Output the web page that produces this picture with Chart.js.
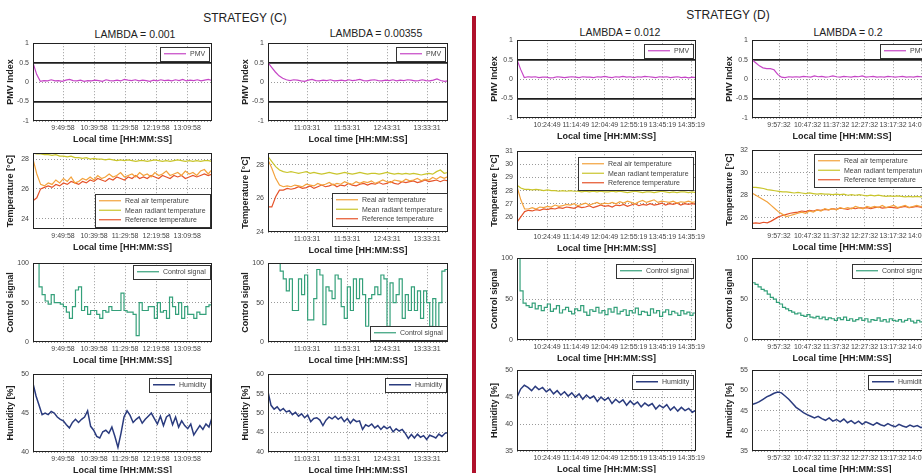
<!DOCTYPE html>
<html>
<head>
<meta charset="utf-8">
<title>Strategy C / D</title>
<script src="https://cdn.jsdelivr.net/npm/chart.js@4.4.1/dist/chart.umd.min.js"></script>
<style>
  html, body { margin: 0; padding: 0; background: #fff; }
  body { position: relative; width: 922px; height: 473px; overflow: hidden; font-family: "Liberation Sans", Arial, sans-serif; color: #222; }
  .panel { position: absolute; }
  .label { position: absolute; transform: translate(-50%, -50%); white-space: nowrap; }
  .strategy { font-size: 12px; }
  .lambda { font-size: 10.5px; }
  #divider { position: absolute; left: 472px; top: 16px; width: 4px; height: 457px; background: #b0112b; }
</style>
</head>
<body>
<div class="label strategy" style="left:245px; top:18px">STRATEGY (C)</div>
<div class="label strategy" style="left:728px; top:15px">STRATEGY (D)</div>
<div class="label lambda" style="left:135px; top:34px">LAMBDA = 0.001</div>
<div class="label lambda" style="left:376px; top:33px">LAMBDA = 0.00355</div>
<div class="label lambda" style="left:620px; top:32px">LAMBDA = 0.012</div>
<div class="label lambda" style="left:848px; top:32px">LAMBDA = 0.2</div>
<div id="divider"></div>

<script>
// visible time span and tick times of every column
const spanC1 = ['9:01:34', '13:50:00'];
const ticksC1 = ['9:49:58', '10:39:58', '11:29:58', '12:19:58', '13:09:58'];
const spanC2 = ['10:14:46', '13:59:46'];
const ticksC2 = ['11:03:31', '11:53:31', '12:43:31', '13:33:31'];
const spanD1 = ['9:32:43', '14:43:30'];
const ticksD1 = ['10:24:49', '11:14:49', '12:04:49', '12:55:19', '13:45:19', '14:35:19'];
const spanD2 = ['9:10:06', '14:25:54'];
const ticksD2 = ['9:57:32', '10:47:32', '11:37:32', '12:27:32', '13:17:32', '14:07:32'];

// PMV index
const pmvC1 = [0.5, 0.2, 0.02, 0.04, 0.03, 0.06, 0.03, 0.04, 0.02, 0.05, 0.07, 0.04, 0.03, 0.05, 0.02, 0.04, 0.03, 0.05, 0.04, 0.02, 0.06, 0.04, 0.03, 0.05, 0.03, 0.07, 0.05, 0.04, 0.06, 0.03, 0.05, 0.04, 0.02, 0.05, 0.03, 0.06, 0.04, 0.05, 0.03, 0.06, 0.04, 0.07, 0.03, 0.05, 0.04, 0.06, 0.03, 0.05, 0.07, 0.04];
const pmvC2 = [0.5, 0.38, 0.26, 0.16, 0.1, 0.06, 0.04, 0.06, 0.05, 0.03, 0.02, 0.05, 0.07, 0.04, 0.03, 0.05, 0.04, 0.06, 0.03, 0.04, 0.05, 0.03, 0.06, 0.04, 0.05, 0.07, 0.04, 0.03, 0.05, 0.06, 0.04, 0.03, 0.05, 0.04, 0.06, 0.03, 0.05, 0.04, 0.06, 0.05, 0.03, 0.04, 0.06, 0.04, 0.03, 0.05, 0.08, 0.04, 0.02, 0.03];
const pmvD1 = [0.5, 0.25, 0.04, 0.06, 0.05, 0.06, 0.04, 0.05, 0.05, 0.03, 0.04, 0.06, 0.05, 0.04, 0.05, 0.06, 0.05, 0.04, 0.06, 0.05, 0.05, 0.04, 0.06, 0.05, 0.07, 0.05, 0.04, 0.06, 0.05, 0.07, 0.05, 0.06, 0.04, 0.06, 0.05, 0.07, 0.06, 0.05, 0.04, 0.06, 0.05, 0.06, 0.04, 0.05, 0.06, 0.04, 0.05, 0.03, 0.05, 0.04];
const pmvD2 = [0.5, 0.42, 0.34, 0.29, 0.27, 0.27, 0.24, 0.12, 0.05, 0.04, 0.06, 0.05, 0.06, 0.05, 0.07, 0.06, 0.05, 0.08, 0.06, 0.07, 0.05, 0.06, 0.08, 0.06, 0.05, 0.07, 0.06, 0.05, 0.07, 0.06, 0.08, 0.05, 0.06, 0.07, 0.05, 0.06, 0.05, 0.07, 0.06, 0.05, 0.06, 0.07, 0.05, 0.06, 0.05, 0.07, 0.06, 0.05, 0.06, 0.05];

// temperatures [°C]
const realC1 = [28.0, 27.0, 26.3, 26.2, 26.4, 26.3, 26.6, 26.4, 26.7, 26.5, 26.8, 26.4, 26.5, 26.7, 26.6, 26.8, 26.6, 26.9, 26.7, 26.8, 27.0, 26.8, 26.9, 27.1, 26.8, 26.9, 27.0, 26.8, 27.1, 26.9, 27.0, 26.8, 27.1, 26.9, 27.0, 27.2, 26.9, 27.0, 27.1, 26.9, 27.2, 27.0, 27.1, 26.9, 27.2, 27.3, 27.0, 27.3];
const radiantC1 = [28.4, 28.35, 28.35, 28.3, 28.3, 28.25, 28.3, 28.2, 28.2, 28.15, 28.2, 28.1, 28.1, 28.05, 28.1, 28.0, 28.05, 28.0, 28.0, 27.95, 28.0, 27.95, 27.9, 27.95, 27.9, 27.95, 27.9, 27.85, 27.9, 27.9, 27.85, 27.9, 27.95, 27.9, 27.85, 27.9, 27.85, 27.9, 27.95, 27.9, 27.85, 27.9, 27.85, 27.9, 27.85, 27.9, 27.9, 27.85];
const refC1 = [25.2, 25.4, 26.0, 26.1, 26.2, 26.1, 26.3, 26.2, 26.4, 26.3, 26.5, 26.4, 26.3, 26.5, 26.4, 26.6, 26.5, 26.7, 26.6, 26.5, 26.7, 26.6, 26.8, 26.7, 26.6, 26.8, 26.7, 26.9, 26.7, 26.8, 26.7, 26.9, 26.8, 26.7, 26.9, 26.8, 26.7, 26.9, 26.8, 26.9, 26.7, 26.8, 26.9, 26.8, 26.9, 27.0, 26.9, 27.0];

const realC2 = [28.3, 27.8, 27.2, 26.8, 26.7, 26.75, 26.7, 26.8, 26.75, 26.7, 26.85, 26.8, 26.75, 26.9, 26.8, 26.85, 26.95, 26.8, 26.9, 26.85, 27.0, 26.9, 26.85, 27.0, 26.9, 27.0, 26.95, 27.05, 26.9, 27.0, 27.1, 27.0, 26.95, 27.1, 27.05, 27.0, 27.15, 27.05, 27.1, 27.2, 27.05, 27.15, 27.1, 27.25, 27.15, 27.3, 27.2, 27.3];
const radiantC2 = [28.5, 28.2, 27.9, 27.7, 27.6, 27.55, 27.6, 27.55, 27.5, 27.55, 27.6, 27.5, 27.55, 27.5, 27.45, 27.5, 27.55, 27.5, 27.45, 27.5, 27.55, 27.5, 27.45, 27.5, 27.55, 27.5, 27.45, 27.5, 27.5, 27.45, 27.5, 27.55, 27.5, 27.45, 27.5, 27.45, 27.5, 27.45, 27.5, 27.45, 27.4, 27.45, 27.5, 27.45, 27.6, 27.7, 27.5, 27.55];
const refC2 = [25.5, 25.5, 26.1, 26.5, 26.5, 26.6, 26.55, 26.6, 26.7, 26.6, 26.65, 26.75, 26.6, 26.7, 26.8, 26.7, 26.75, 26.85, 26.7, 26.8, 26.75, 26.9, 26.8, 26.75, 26.85, 26.9, 26.8, 26.9, 26.85, 26.95, 26.85, 26.9, 27.0, 26.9, 26.85, 27.0, 26.95, 27.0, 27.05, 26.95, 27.0, 27.1, 27.0, 27.05, 27.1, 27.0, 27.1, 27.05];

const realD1 = [28.3, 27.3, 26.6, 26.6, 26.7, 26.6, 26.75, 26.7, 26.8, 26.75, 26.9, 26.8, 26.85, 26.95, 26.9, 27.0, 26.85, 26.95, 27.05, 26.9, 27.0, 27.1, 26.95, 27.05, 27.0, 27.1, 27.0, 27.15, 27.05, 27.2, 27.1, 27.0, 27.15, 27.25, 27.1, 27.2, 27.3, 27.1, 27.2, 27.15, 27.1, 27.2, 27.05, 27.15, 27.1, 27.2, 27.1, 27.15];
const radiantD1 = [28.4, 28.2, 28.1, 28.1, 28.05, 28.1, 28.05, 28.0, 28.05, 28.0, 28.0, 27.95, 28.0, 27.95, 28.0, 27.95, 27.95, 27.9, 27.95, 27.9, 27.95, 27.9, 27.95, 27.9, 27.9, 27.95, 27.9, 27.95, 27.9, 27.85, 27.9, 27.95, 27.9, 27.85, 27.9, 27.9, 27.85, 27.9, 27.95, 27.9, 27.85, 27.9, 27.85, 27.9, 27.9, 27.85, 27.9, 27.85];
const refD1 = [25.6, 26.0, 26.4, 26.5, 26.45, 26.55, 26.5, 26.6, 26.55, 26.65, 26.6, 26.7, 26.65, 26.75, 26.7, 26.65, 26.8, 26.7, 26.75, 26.85, 26.7, 26.8, 26.9, 26.8, 26.85, 26.75, 26.9, 26.85, 26.95, 26.8, 26.9, 27.0, 26.85, 26.95, 26.9, 27.0, 26.9, 26.95, 27.05, 26.9, 27.0, 26.95, 27.05, 26.9, 27.0, 26.95, 27.0, 26.95];

const realD2 = [28.2, 28.0, 27.8, 27.6, 27.4, 27.1, 26.8, 26.5, 26.3, 26.1, 26.2, 26.3, 26.4, 26.5, 26.4, 26.6, 26.5, 26.7, 26.6, 26.8, 26.7, 26.8, 26.7, 26.9, 26.8, 26.9, 26.8, 27.0, 26.9, 26.8, 27.0, 26.9, 27.0, 26.9, 27.1, 26.9, 27.0, 27.1, 26.9, 27.0, 27.1, 26.9, 27.0, 27.1, 27.0, 27.1, 27.0, 27.1];
const radiantD2 = [28.7, 28.7, 28.65, 28.6, 28.5, 28.45, 28.4, 28.35, 28.3, 28.3, 28.25, 28.2, 28.25, 28.2, 28.15, 28.2, 28.15, 28.1, 28.15, 28.1, 28.1, 28.05, 28.1, 28.05, 28.1, 28.0, 28.05, 28.0, 28.05, 28.0, 27.95, 28.0, 27.95, 28.0, 27.95, 27.9, 27.95, 27.9, 27.95, 27.9, 27.85, 27.9, 27.85, 27.9, 27.85, 27.9, 27.85, 27.9];
const refD2 = [25.5, 25.55, 25.5, 25.6, 25.55, 25.7, 25.9, 26.1, 26.2, 26.3, 26.4, 26.45, 26.5, 26.6, 26.55, 26.65, 26.6, 26.7, 26.65, 26.75, 26.7, 26.8, 26.75, 26.85, 26.8, 26.75, 26.85, 26.8, 26.9, 26.85, 26.9, 26.8, 26.9, 26.95, 26.85, 26.9, 26.95, 26.9, 26.85, 26.95, 27.0, 26.9, 26.95, 27.0, 26.95, 27.0, 26.95, 27.0];

// control signal [%], held between samples
const ctrlC1 = [0, 100, 100, 70, 60, 52, 48, 60, 50, 50, 48, 45, 38, 30, 45, 66, 70, 40, 45, 35, 40, 40, 35, 30, 40, 38, 45, 40, 40, 40, 62, 40, 38, 38, 35, 8, 50, 40, 40, 45, 45, 30, 50, 38, 40, 30, 57, 45, 35, 50, 30, 45, 35, 35, 30, 38, 35, 35, 45, 47];
const ctrlC2 = [100, 100, 100, 100, 100, 90, 80, 65, 80, 40, 40, 80, 60, 85, 28, 28, 55, 92, 85, 22, 70, 65, 55, 85, 80, 45, 30, 70, 40, 80, 55, 80, 60, 20, 55, 60, 70, 60, 85, 80, 20, 75, 50, 60, 80, 30, 60, 40, 70, 40, 65, 30, 65, 50, 20, 55, 15, 50, 90, 92];
const ctrlD1 = [100, 100, 60, 45, 42, 40, 45, 38, 42, 36, 40, 44, 35, 38, 42, 33, 37, 40, 35, 32, 38, 36, 42, 34, 30, 37, 35, 40, 33, 36, 31, 38, 34, 40, 32, 35, 37, 30, 36, 33, 39, 31, 35, 34, 30, 38, 33, 36, 29, 34, 37, 31, 35, 33, 30, 36, 32, 34, 30, 33];
const ctrlD2 = [72, 70, 68, 65, 62, 60, 56, 52, 50, 46, 44, 40, 38, 36, 34, 32, 33, 30, 29, 31, 28, 27, 29, 26, 28, 25, 27, 26, 24, 27, 25, 28, 24, 26, 23, 25, 27, 24, 26, 22, 25, 24, 27, 23, 25, 22, 26, 24, 23, 25, 22, 24, 26, 23, 21, 24, 22, 25, 23, 24];

// relative humidity [%]
const humC1 = [48.8, 47.2, 46, 44.8, 45, 44.8, 45.2, 45.0, 44.5, 44.2, 44, 43.5, 43.1, 43.8, 44.2, 43.8, 44.2, 44.5, 45.3, 43.3, 42.8, 42, 41.8, 42.6, 42.8, 42.4, 43.2, 42, 40.6, 42.4, 44.5, 45.3, 44.7, 43.8, 44.2, 44.5, 43.7, 44.2, 44.6, 45, 44.3, 43.6, 44.6, 43.4, 44.5, 44.8, 43.5, 44.5, 43.2, 44, 43.4, 43, 43.6, 42.2, 42.8, 43.4, 42.9, 43.6, 43.2, 44.4];
const humC2 = [55.5, 52, 51, 51.6, 50.6, 51.2, 50.3, 50.6, 49.6, 50.2, 49.2, 49.8, 48.8, 49.5, 47.8, 48.6, 48.8, 48.2, 46.8, 48.2, 49, 48.5, 49.2, 48.4, 49, 47.8, 48.6, 47.4, 48.4, 47.8, 48, 45.8, 47, 46.6, 47.2, 46.2, 46.8, 45.8, 46.6, 46, 46.5, 45.2, 46, 45.4, 45.8, 44.8, 43.5, 44.5, 43.6, 44.6, 43.8, 44.2, 43.2, 44.3, 44, 43.6, 44.6, 44, 44.8, 45];
const humD1 = [45, 46.5, 47.2, 46.8, 46.2, 47, 46.4, 46.8, 46, 46.5, 45.6, 46.2, 45.4, 46, 45.2, 45.8, 45, 45.6, 44.6, 45.4, 44.8, 45.2, 44.2, 45, 44.4, 44.9, 43.8, 44.6, 44, 44.5, 43.5, 44.3, 43.6, 44.1, 43.2, 43.9, 43.4, 43.8, 42.8, 43.5, 43, 43.6, 42.6, 43.2, 42.4, 43.1, 42.5, 42.9, 42.2, 42.6];
const humD2 = [46.5, 46.8, 47.2, 47.8, 48.4, 48.8, 49.3, 49.6, 49.4, 48.6, 47.8, 46.8, 45.8, 45.2, 44.5, 44.0, 43.6, 43.2, 43.6, 43.0, 42.6, 43.2, 42.4, 42.8, 42.2, 42.9, 42.0, 42.5, 41.8, 42.4, 41.6, 42.2, 41.8, 41.4, 42.0, 41.5, 41.2, 41.8, 41.3, 41.0, 41.6, 41.2, 40.9, 41.4, 41.0, 41.3, 40.8, 41.2, 40.9, 41.1];

const COLOR = { pmv: '#c646c6', real: '#f3a23c', radiant: '#c9c52c', ref: '#e5532a', ctrl: '#34a07a', hum: '#2a3b7e' };
const FAMILY = '"Liberation Sans", Arial, sans-serif';
const TICK_FONT = { family: FAMILY, size: 7 };
const TITLE_FONT = { family: FAMILY, size: 9, weight: 'bold' };
const TICK_COLOR = '#444';
const TITLE_COLOR = '#222';
const GRID = '#9a9a9a';

const LEFT_W = 28, BOTTOM_H = 24, TOP_PAD = 8, RIGHT_PAD = 20;

const columns = [
  { left: 33, width: 179, span: spanC1, ticks: ticksC1, tops: [43, 153, 263, 374], heights: [78, 76, 79, 78] },
  { left: 268, width: 180, span: spanC2, ticks: ticksC2, tops: [43, 153, 263, 374], heights: [78, 79, 79, 78] },
  { left: 517, width: 179, span: spanD1, ticks: ticksD1, tops: [40, 151, 258, 370], heights: [78, 79, 82, 81] },
  { left: 752, width: 180, span: spanD2, ticks: ticksD2, tops: [40, 150, 258, 370], heights: [78, 79, 82, 81] }
];

const yPmv = { title: 'PMV Index', min: -1, max: 1, ticks: [-1, -0.5, 0, 0.5, 1], comfort: true };
const yCtrl = { title: 'Control signal', min: 0, max: 100, ticks: [0, 50, 100] };
const tempTitle = 'Temperature [°C]';
const humTitle = 'Humidity [%]';

const tempSeries = (real, radiant, ref) => [
  ['Real air temperature', real, COLOR.real, 1.2],
  ['Mean radiant temperature', radiant, COLOR.radiant, 1.2],
  ['Reference temperature', ref, COLOR.ref, 1.2]
];

const panels = [
  { col: 0, row: 0, y: yPmv, series: [['PMV', pmvC1, COLOR.pmv, 1.2]], legend: { pos: 'top', dx: 3, dy: 4 } },
  { col: 1, row: 0, y: yPmv, series: [['PMV', pmvC2, COLOR.pmv, 1.2]], legend: { pos: 'top', dx: 3, dy: 4 } },
  { col: 2, row: 0, y: yPmv, series: [['PMV', pmvD1, COLOR.pmv, 1.2]], legend: { pos: 'top', dx: 3, dy: 4 } },
  { col: 3, row: 0, y: yPmv, series: [['PMV', pmvD2, COLOR.pmv, 1.2]], legend: { pos: 'top', dx: 3, dy: 4 } },

  { col: 0, row: 1, y: { title: tempTitle, min: 23.3, max: 28.4, ticks: [24, 26, 28] }, series: tempSeries(realC1, radiantC1, refC1), legend: { pos: 'bottom', dx: 2, dy: 2 } },
  { col: 1, row: 1, y: { title: tempTitle, min: 24, max: 28.7, ticks: [24, 26, 28] }, series: tempSeries(realC2, radiantC2, refC2), legend: { pos: 'bottom', dx: 1, dy: 6 } },
  { col: 2, row: 1, y: { title: tempTitle, min: 25, max: 31, ticks: [26, 27, 28, 29, 30, 31] }, series: tempSeries(realD1, radiantD1, refD1), legend: { pos: 'top', dx: 3, dy: 6 } },
  { col: 3, row: 1, y: { title: tempTitle, min: 25, max: 32, ticks: [26, 28, 30, 32] }, series: tempSeries(realD2, radiantD2, refD2), legend: { pos: 'top', dx: 3, dy: 4 } },

  { col: 0, row: 2, y: yCtrl, stepped: true, series: [['Control signal', ctrlC1, COLOR.ctrl, 1.2]], legend: { pos: 'top', dx: 2, dy: 2 } },
  { col: 1, row: 2, y: yCtrl, stepped: true, series: [['Control signal', ctrlC2, COLOR.ctrl, 1.2]], legend: { pos: 'bottom', dx: 1, dy: 2 } },
  { col: 2, row: 2, y: yCtrl, stepped: true, series: [['Control signal', ctrlD1, COLOR.ctrl, 1.2]], legend: { pos: 'top', dx: 3, dy: 6 } },
  { col: 3, row: 2, y: yCtrl, stepped: true, series: [['Control signal', ctrlD2, COLOR.ctrl, 1.2]], legend: { pos: 'top', dx: 3, dy: 6 } },

  { col: 0, row: 3, y: { title: humTitle, min: 40, max: 50, ticks: [40, 45, 50] }, series: [['Humidity', humC1, COLOR.hum, 1.5]], legend: { pos: 'top', dx: 2, dy: 4 } },
  { col: 1, row: 3, y: { title: humTitle, min: 40, max: 60, ticks: [40, 45, 50, 55, 60] }, series: [['Humidity', humC2, COLOR.hum, 1.5]], legend: { pos: 'top', dx: 2, dy: 4 } },
  { col: 2, row: 3, y: { title: humTitle, min: 35, max: 50, ticks: [35, 40, 45, 50] }, series: [['Humidity', humD1, COLOR.hum, 1.5]], legend: { pos: 'top', dx: 3, dy: 5 } },
  { col: 3, row: 3, y: { title: humTitle, min: 35, max: 55, ticks: [35, 40, 45, 50, 55] }, series: [['Humidity', humD2, COLOR.hum, 1.5]], legend: { pos: 'top', dx: 3, dy: 5 } }
];

function toMin(s) {
  const [h, m, sec] = s.split(':').map(Number);
  return h * 60 + m + sec / 60;
}

// samples are evenly spread over the logged period
function points(values, span) {
  const a = toMin(span[0]), b = toMin(span[1]);
  const step = (b - a) / (values.length - 1);
  return values.map((v, i) => ({ x: a + i * step, y: v }));
}

// black box round the plot area
const frame = {
  id: 'frame',
  afterDatasetsDraw(chart) {
    const { ctx, chartArea: a } = chart;
    ctx.save();
    ctx.strokeStyle = '#222';
    ctx.lineWidth = 1;
    ctx.strokeRect(Math.round(a.left) + 0.5, Math.round(a.top) + 0.5, Math.round(a.width) - 1, Math.round(a.height) - 1);
    ctx.restore();
  }
};

// legend box drawn inside the plot area
const insetLegend = {
  id: 'insetLegend',
  afterDraw(chart, args, opts) {
    const { ctx, chartArea: a } = chart;
    const sets = chart.data.datasets;
    const rowH = 9.5, sample = 22, pad = 4;
    ctx.save();
    ctx.font = '7px ' + FAMILY;
    const textW = Math.max(...sets.map(d => ctx.measureText(d.label).width));
    const w = Math.round(pad + sample + 4 + textW + pad);
    const h = Math.round(sets.length * rowH + 4);
    const x = Math.round(a.right - opts.dx - w);
    const y = Math.round(opts.pos === 'bottom' ? a.bottom - opts.dy - h : a.top + opts.dy);
    ctx.fillStyle = '#fff';
    ctx.fillRect(x, y, w, h);
    ctx.strokeStyle = '#333';
    ctx.lineWidth = 1;
    ctx.strokeRect(x + 0.5, y + 0.5, w, h);
    sets.forEach((d, i) => {
      const cy = y + 2 + rowH * i + rowH / 2;
      ctx.strokeStyle = d.borderColor;
      ctx.lineWidth = d.borderWidth;
      ctx.beginPath();
      ctx.moveTo(x + pad, cy);
      ctx.lineTo(x + pad + sample, cy);
      ctx.stroke();
      ctx.fillStyle = '#444';
      ctx.textBaseline = 'middle';
      ctx.fillText(d.label, x + pad + sample + 4, cy + 0.5);
    });
    ctx.restore();
  }
};

function isComfort(p, ctx) {
  return p.y.comfort && ctx.tick && Math.abs(Math.abs(ctx.tick.value) - 0.5) < 1e-9;
}

function makePanel(p) {
  const col = columns[p.col];
  const top = col.tops[p.row], h = col.heights[p.row];
  const cw = LEFT_W + col.width + RIGHT_PAD, ch = TOP_PAD + h + BOTTOM_H;

  const wrap = document.createElement('div');
  wrap.className = 'panel';
  wrap.style.left = (col.left - LEFT_W) + 'px';
  wrap.style.top = (top - TOP_PAD) + 'px';
  const canvas = document.createElement('canvas');
  canvas.width = cw;
  canvas.height = ch;
  canvas.style.width = cw + 'px';
  canvas.style.height = ch + 'px';
  wrap.appendChild(canvas);
  document.body.appendChild(wrap);

  const xTicks = col.ticks.map(toMin);

  new Chart(canvas, {
    type: 'line',
    data: {
      datasets: p.series.map(([label, values, color, width]) => ({
        label,
        data: points(values, col.span),
        borderColor: color,
        borderWidth: width,
        pointRadius: 0,
        fill: false,
        tension: 0,
        stepped: p.stepped ? 'after' : false
      }))
    },
    options: {
      responsive: false,
      animation: false,
      devicePixelRatio: 1,
      layout: { padding: { top: TOP_PAD, right: RIGHT_PAD, left: 0, bottom: 0 } },
      plugins: {
        legend: { display: false },
        tooltip: { enabled: false },
        insetLegend: p.legend
      },
      scales: {
        x: {
          type: 'linear',
          min: toMin(col.span[0]),
          max: toMin(col.span[1]),
          afterBuildTicks: s => { s.ticks = xTicks.map(v => ({ value: v })); },
          afterFit: s => { s.height = BOTTOM_H; },
          ticks: {
            autoSkip: false, maxRotation: 0, minRotation: 0, padding: 3,
            color: TICK_COLOR, font: TICK_FONT,
            callback: (v, i) => col.ticks[i]
          },
          grid: { color: GRID, lineWidth: 1, drawTicks: false },
          border: { display: false, dash: [1, 2] },
          title: { display: true, text: 'Local time [HH:MM:SS]', color: TITLE_COLOR, font: TITLE_FONT, padding: 0 }
        },
        y: {
          min: p.y.min,
          max: p.y.max,
          afterBuildTicks: s => { s.ticks = p.y.ticks.map(v => ({ value: v })); },
          afterFit: s => { s.width = LEFT_W; },
          ticks: { padding: 4, color: TICK_COLOR, font: TICK_FONT, callback: v => String(v) },
          grid: {
            drawTicks: false,
            color: ctx => isComfort(p, ctx) ? '#1e1e1e' : GRID,
            lineWidth: ctx => isComfort(p, ctx) ? 1.8 : 1
          },
          border: { display: false, dash: ctx => isComfort(p, ctx) ? [] : [1, 2] },
          title: { display: true, text: p.y.title, color: TITLE_COLOR, font: TITLE_FONT, padding: 0 }
        }
      }
    },
    plugins: [frame, insetLegend]
  });
}

panels.forEach(makePanel);
</script>
</body>
</html>
